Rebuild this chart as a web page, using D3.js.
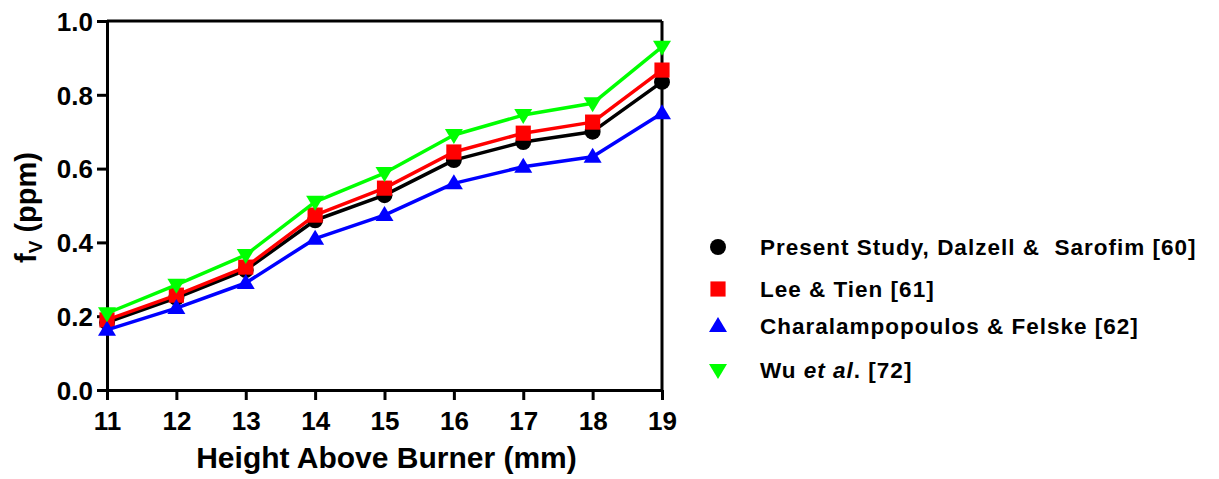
<!DOCTYPE html>
<html>
<head>
<meta charset="utf-8">
<script src="https://cdn.jsdelivr.net/npm/d3@7"></script>
<style>
  html, body { margin: 0; padding: 0; background: #fff; }
  svg { display: block; font-family: "Liberation Sans", Arial, sans-serif; font-weight: bold; }
</style>
</head>
<body>
<svg id="chart" width="1219" height="479"></svg>
<script>
const heights = [11, 12, 13, 14, 15, 16, 17, 18, 19];
const presentStudy = [0.183, 0.25, 0.325, 0.46, 0.528, 0.623, 0.672, 0.70, 0.835];
const leeTien = [0.19, 0.257, 0.333, 0.474, 0.547, 0.645, 0.696, 0.726, 0.867];
const charalampopoulos = [0.163, 0.222, 0.29, 0.41, 0.474, 0.56, 0.605, 0.632, 0.75];
const wuEtAl = [0.208, 0.285, 0.366, 0.51, 0.588, 0.691, 0.745, 0.777, 0.93];
const yTicks = [0.0, 0.2, 0.4, 0.6, 0.8, 1.0];
const xTicks = [11, 12, 13, 14, 15, 16, 17, 18, 19];
const seriesNames = ["Present Study, Dalzell &\u00a0 Sarofim [60]", "Lee & Tien [61]", "Charalampopoulos & Felske [62]", "Wu et al. [72]"];
const seriesColors = ["#000000", "#ff0000", "#0000ff", "#00ff00"];
const seriesSymbols = ["circle", "square", "triangleUp", "triangleDown"];

(function () {
const series = [presentStudy, leeTien, charalampopoulos, wuEtAl].map((vals, i) => ({
  name: seriesNames[i], color: seriesColors[i], symbol: seriesSymbols[i],
  points: heights.map((h, j) => ({ x: h, y: vals[j] }))
}));

const svg = d3.select("#chart");
const pl = 107, pr = 662, pt = 21, pb = 390;
const x = d3.scaleLinear().domain([11, 19]).range([pl, pr]);
const y = d3.scaleLinear().domain([0, 1]).range([pb, pt]);

// frame top & right
svg.append("line").attr("x1", pl).attr("x2", pr).attr("y1", pt).attr("y2", pt)
  .attr("stroke", "#000").attr("stroke-width", 3);
svg.append("line").attr("x1", pr).attr("x2", pr).attr("y1", pt).attr("y2", pb)
  .attr("stroke", "#000").attr("stroke-width", 3);

const xAxis = svg.append("g").attr("transform", `translate(0,${pb})`)
  .call(d3.axisBottom(x).tickValues(xTicks).tickFormat(d3.format("d")).tickSizeInner(10).tickSizeOuter(0).tickPadding(12));
const yAxis = svg.append("g").attr("transform", `translate(${pl},0)`)
  .call(d3.axisLeft(y).tickValues(yTicks).tickFormat(d3.format(".1f")).tickSizeInner(10).tickSizeOuter(0).tickPadding(4));
[xAxis, yAxis].forEach(g => {
  g.select(".domain").attr("stroke", "#000").attr("stroke-width", 3);
  g.selectAll(".tick line").attr("stroke", "#000").attr("stroke-width", 3);
  g.selectAll(".tick text").attr("fill", "#000")
    .style("font-family", "'Liberation Sans', Arial, sans-serif").style("font-weight", "bold");
});
xAxis.selectAll(".tick text").style("font-size", "26px");
yAxis.selectAll(".tick text").style("font-size", "26px").attr("dy", "0.36em");

// axis titles
svg.append("text").attr("x", (pl + pr) / 2 + 2).attr("y", 468)
  .attr("text-anchor", "middle").style("font-size", "30px").attr("fill", "#000")
  .text("Height Above Burner (mm)");
const yt = svg.append("text").attr("transform", `translate(36,${(pt + pb) / 2 + 2}) rotate(-90)`)
  .attr("text-anchor", "middle").style("font-size", "29px").attr("fill", "#000");
yt.append("tspan").text("f");
yt.append("tspan").attr("dy", 6).style("font-size", "19px").text("V");
yt.append("tspan").attr("dy", -6).text(" (ppm)");

function symbolPath(sym) {
  if (sym === "circle") return d3.symbol().type(d3.symbolCircle).size(200)();
  if (sym === "square") return d3.symbol().type(d3.symbolSquare).size(230)();
  if (sym === "triangleUp") return "M0,-9L9,6L-9,6Z";
  return "M0,9L9,-6L-9,-6Z";
}

const line = d3.line().x(d => x(d.x)).y(d => y(d.y));
series.forEach(s => {
  const g = svg.append("g");
  g.append("path").datum(s.points).attr("d", line)
    .attr("fill", "none").attr("stroke", s.color).attr("stroke-width", 3.5).attr("stroke-linejoin", "round");
  g.selectAll("path.m").data(s.points).enter().append("path").attr("class", "m")
    .attr("transform", d => `translate(${x(d.x)},${y(d.y)})`)
    .attr("d", symbolPath(s.symbol)).attr("fill", s.color);
});

// legend
const legendY = [247, 289, 326, 370];
const legend = svg.append("g");
series.forEach((s, i) => {
  legend.append("path").attr("transform", `translate(718,${legendY[i]})`)
    .attr("d", symbolPath(s.symbol)).attr("fill", s.color);
  const t = legend.append("text").attr("x", 760).attr("y", legendY[i] + 8)
    .style("font-size", "22.5px").style("letter-spacing", "1px").attr("fill", "#000");
  if (i === 3) {
    t.append("tspan").text("Wu ");
    t.append("tspan").style("font-style", "italic").text("et al");
    t.append("tspan").text(". [72]");
  } else {
    t.text(s.name);
  }
});
})();
</script>
</body>
</html>
